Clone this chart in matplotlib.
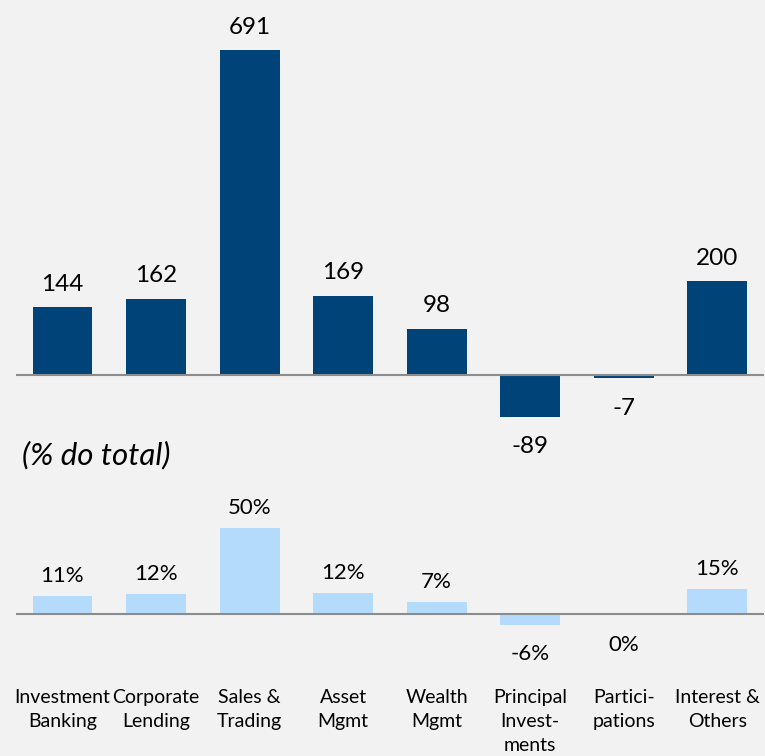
import matplotlib.pyplot as plt

categories = ["Investment\nBanking", "Corporate\nLending", "Sales &\nTrading", "Asset\nMgmt",
              "Wealth\nMgmt", "Principal\nInvest-\nments", "Partici-\npations", "Interest &\nOthers"]
values = [144, 162, 691, 169, 98, -89, -7, 200]
shares = [10.5, 11.8, 50.5, 12.4, 7.2, -6.5, -0.8, 14.6]
share_labels = ["11%", "12%", "50%", "12%", "7%", "-6%", "0%", "15%"]

dark = "#004379"
light = "#b4dbfc"
bg = "#f2f2f2"

plt.rcParams['font.family'] = ['Lato', 'DejaVu Sans']

W, H = 765, 756
fig = plt.figure(figsize=(W / 100, H / 100), dpi=100)
fig.patch.set_facecolor(bg)

x = range(len(values))
x0, x1 = 15.75 / W, 764 / W


def make_axes(top_px, bot_px, zero_px, px_per_unit):
    ax = fig.add_axes([x0, 1 - bot_px / H, x1 - x0, (bot_px - top_px) / H])
    ax.set_facecolor(bg)
    ax.set_xlim(-0.5, len(values) - 0.5)
    ax.set_ylim(-(bot_px - zero_px) / px_per_unit, (zero_px - top_px) / px_per_unit)
    for s in ax.spines.values():
        s.set_visible(False)
    ax.set_yticks([])
    ax.axhline(0, color="#8c8c8c", lw=1.5, zorder=3)
    return ax


# top chart
ax1 = make_axes(10, 470, 375, 0.47)
ax1.bar(x, values, width=0.64, color=dark, zorder=2)
ax1.set_xticks([])
for i, v in enumerate(values):
    if v >= 0:
        ax1.annotate(str(v), (i, v), xytext=(0, 9), textcoords="offset points",
                     ha="center", va="bottom", fontsize=17.5)
    else:
        ax1.annotate(str(v), (i, v), xytext=(0, -14), textcoords="offset points",
                     ha="center", va="top", fontsize=17.5)

fig.text(22 / W, 1 - 455 / H, "(% do total)", fontsize=22.5, style="italic",
         ha="left", va="center")

# bottom chart
ax2 = make_axes(500, 682, 614, 1.70)
ax2.bar(x, shares, width=0.64, color=light, zorder=2)
for i, (v, lab) in enumerate(zip(shares, share_labels)):
    if v >= 0:
        ax2.annotate(lab, (i, v), xytext=(0, 7), textcoords="offset points",
                     ha="center", va="bottom", fontsize=16)
    else:
        ax2.annotate(lab, (i, v), xytext=(0, -14), textcoords="offset points",
                     ha="center", va="top", fontsize=16)

ax2.set_xticks(list(x))
ax2.set_xticklabels(categories, fontsize=14, linespacing=1.5)
ax2.tick_params(axis="x", length=0, pad=5)

fig.savefig("out.png", dpi=100, facecolor=bg)
